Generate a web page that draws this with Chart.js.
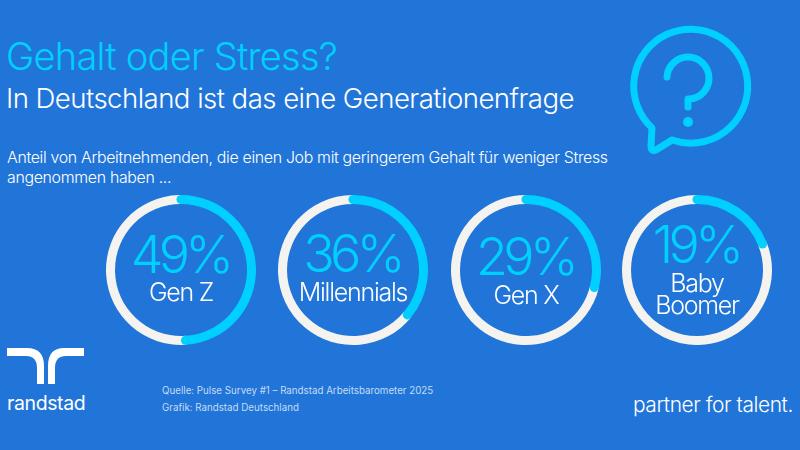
<!DOCTYPE html>
<html lang="de">
<head>
<meta charset="utf-8">
<title>Gehalt oder Stress?</title>
<script src="https://cdn.jsdelivr.net/npm/chart.js@4"></script>
<style>
    html, body { margin: 0; padding: 0; }
    body { width: 800px; height: 450px; background: #2175d9; overflow: hidden; position: relative; font-family: Inter, Roboto, sans-serif; font-weight: 300; }
    canvas { position: absolute; }
    svg { position: absolute; left: 0; top: 0; }
    .txt { position: absolute; line-height: 1; white-space: nowrap; letter-spacing: -0.02em; }
    .mid { transform: translateX(-50%); }
</style>
</head>
<body>
<svg width="800" height="450">
    <!-- Fragezeichen-Symbol -->
    <g fill="none" stroke="#00d0ff" stroke-width="7" stroke-linecap="round" stroke-linejoin="round">
        <path d="M652 128 A57 57 0 1 1 672 140 L656 150 Q651 152 651 146 Z"/>
        <path d="M667 77 A21 21 0 1 1 690 99 L688 99 L688 107"/>
    </g>
    <circle cx="688" cy="122" r="5" fill="#00d0ff"/>
    <!-- Logo -->
    <path fill="#fff" d="M7 348 H27 Q44 348 44 366 V384 H37 V368 Q37 356 26 356 H7 Z"/>
    <path fill="#fff" d="M84 348 H64 Q48 348 48 366 V384 H55 V368 Q55 356 66 356 H84 Z"/>
</svg>
<div class="txt" style="left:6px;top:37px;font-size:38px;color:#00d0ff">Gehalt oder Stress?</div>
<div class="txt" style="left:6px;top:85px;font-size:27.6px;color:#fff">In Deutschland ist das eine Generationenfrage</div>
<div class="txt" style="left:7px;top:150px;font-size:15.9px;color:#fff">Anteil von Arbeitnehmenden, die einen Job mit geringerem Gehalt für weniger Stress</div>
<div class="txt" style="left:7px;top:170px;font-size:15.9px;color:#fff">angenommen haben ...</div>
<div class="txt" style="left:162px;top:386px;font-size:9.75px;color:#c5dcf5;letter-spacing:0;font-weight:400">Quelle: Pulse Survey #1 – Randstad Arbeitsbarometer 2025</div>
<div class="txt" style="left:162px;top:403px;font-size:9.75px;color:#c5dcf5;letter-spacing:0;font-weight:400">Grafik: Randstad Deutschland</div>
<div class="txt" style="left:7px;top:394px;font-size:19.5px;color:#fff;font-weight:400">randstad</div>
<div class="txt" style="left:633px;top:395px;font-size:20.9px;color:#fff">partner for talent.</div>

<script>
// Daten
const generations = ['Gen Z', 'Millennials', 'Gen X', 'Baby Boomer'];
const shares = [49, 36, 29, 19];

// Position der Ringe
const ringLeft = [106, 278, 451, 622];
const ringTop = 195;
const ringSize = 150;
const percentBaseline = [274, 273, 276, 264];
const labelBaseline = [[302], [302], [305], [293, 315]];
const labelLines = [['Gen Z'], ['Millennials'], ['Gen X'], ['Baby', 'Boomer']];

const cyan = '#00d0ff';
const grey = '#f4f3ef';

// Runde Enden am Wertebogen
const roundCaps = {
    id: 'roundCaps',
    afterDatasetsDraw(chart) {
        const arc = chart.getDatasetMeta(0).data[0];
        const r = (arc.innerRadius + arc.outerRadius) / 2;
        const w = (arc.outerRadius - arc.innerRadius) / 2;
        const ctx = chart.ctx;
        ctx.save();
        ctx.fillStyle = cyan;
        [arc.startAngle, arc.endAngle].forEach(a => {
            ctx.beginPath();
            ctx.arc(arc.x + r * Math.cos(a), arc.y + r * Math.sin(a), w, 0, Math.PI * 2);
            ctx.fill();
        });
        ctx.restore();
    }
};

function addText(text, x, baseline, size, color, spacing) {
    const el = document.createElement('div');
    el.className = 'txt mid';
    el.textContent = text;
    el.style.left = x + 'px';
    el.style.top = (baseline - size * 0.863) + 'px';
    el.style.fontSize = size + 'px';
    el.style.letterSpacing = spacing;
    el.style.color = color;
    document.body.appendChild(el);
}

generations.forEach((name, i) => {
    const canvas = document.createElement('canvas');
    canvas.style.left = ringLeft[i] + 'px';
    canvas.style.top = ringTop + 'px';
    canvas.style.width = ringSize + 'px';
    canvas.style.height = ringSize + 'px';
    canvas.width = ringSize;
    canvas.height = ringSize;
    document.body.appendChild(canvas);

    new Chart(canvas.getContext('2d'), {
        type: 'doughnut',
        data: {
            labels: [name, 'Rest'],
            datasets: [{
                data: [shares[i], 100 - shares[i]],
                backgroundColor: [cyan, grey],
                borderWidth: 0
            }]
        },
        options: {
            responsive: false,
            animation: false,
            cutout: '88%',
            plugins: { legend: { display: false }, tooltip: { enabled: false } }
        },
        plugins: [roundCaps]
    });

    const cx = ringLeft[i] + ringSize / 2;
    addText(shares[i] + '%', cx - 1, percentBaseline[i], 52, cyan, '-0.09em');
    labelLines[i].forEach((line, j) => addText(line, cx, labelBaseline[i][j], 25, '#fff', '-0.05em'));
});
</script>
</body>
</html>
